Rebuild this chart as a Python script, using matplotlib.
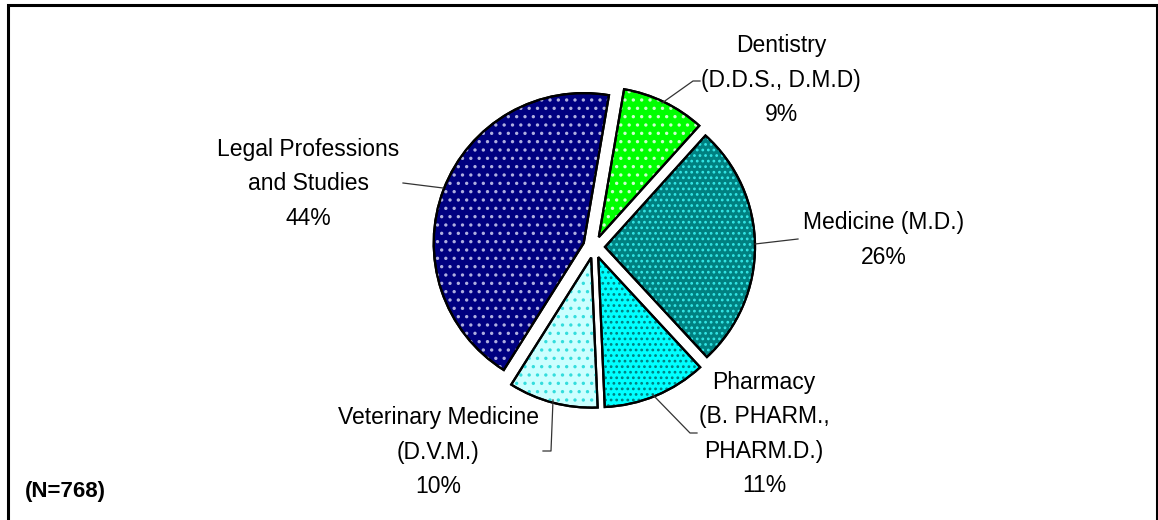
import matplotlib
matplotlib.use("Agg")
import matplotlib.pyplot as plt
from matplotlib.patches import Wedge

plt.rcParams['font.family'] = ['Liberation Sans', 'DejaVu Sans']
plt.rcParams['hatch.linewidth'] = 1.2

# Data (respondent counts, N=768)
categories = ["Dentistry\n(D.D.S., D.M.D)", "Medicine (M.D.)",
              "Pharmacy\n(B. PHARM.,\nPHARM.D.)", "Veterinary Medicine\n(D.V.M.)",
              "Legal Professions\nand Studies"]
counts = [69, 203, 86, 74, 336]
n_total = 768

face_colors = ["#00FF00", "#008080", "#00FFFF", "#CCFFFF", "#000080"]
dot_colors = ["#CCFFCC", "#33E6E6", "#008080", "#33DDDD", "#AFAFE0"]
dot_hatch = ["..", "...", "...", "..", ".."]

W, H = 1158, 520
fig = plt.figure(figsize=(W / 100, H / 100), dpi=100)
ax = fig.add_axes([0, 0, 1, 1])


def py(y):
    # pixel row (from top) -> data y
    return H - y


wedges, _ = ax.pie(counts, center=(594, py(247)), radius=150, startangle=80.3,
                   counterclock=False, colors=face_colors,
                   explode=[11] * len(counts),
                   wedgeprops=dict(edgecolor="black", linewidth=1.6))

# dotted fill pattern drawn on top of each slice
for w, dc, hp in zip(wedges, dot_colors, dot_hatch):
    dots = Wedge(w.center, w.r, w.theta1, w.theta2, fill=False,
                 hatch=hp, edgecolor=dc, linewidth=0, zorder=w.get_zorder() + 0.1)
    ax.add_patch(dots)
    edge = Wedge(w.center, w.r, w.theta1, w.theta2, fill=False,
                 edgecolor="black", linewidth=1.6, zorder=w.get_zorder() + 0.2)
    ax.add_patch(edge)

# labels: name + rounded percentage
label_pos = [(781, 80), (884, 240), (764, 434), (438, 452), (308, 184)]
for name, c, (lx, ly) in zip(categories, counts, label_pos):
    pct = round(100 * c / n_total)
    ax.text(lx, py(ly), f"{name}\n{pct}%", ha="center", va="center",
            multialignment="center", fontsize=16.5, linespacing=1.62)

# leader lines
leaders = [
    [(662, 103), (693, 81), (700, 81)],
    [(755, 244), (798, 239)],
    [(653, 395), (690, 433), (697, 433)],
    [(553, 400), (551, 451), (543, 451)],
    [(443, 188), (403, 183)],
]
for pts in leaders:
    ax.plot([p[0] for p in pts], [py(p[1]) for p in pts], color="#333333",
            linewidth=0.9, zorder=5)

ax.text(25, py(492), f"(N={n_total})", fontsize=16, fontweight="bold",
        ha="left", va="center")

# chart-area border (bottom edge runs off the image)
ax.plot([8, 8, 1157, 1157], [py(530), py(4.5), py(4.5), py(530)],
        color="black", linewidth=2.2, solid_joinstyle="miter", clip_on=False)

ax.set_xlim(0, W)
ax.set_ylim(0, H)
ax.set_aspect("equal")
ax.axis("off")

fig.savefig("out.png", dpi=100, facecolor="white")
